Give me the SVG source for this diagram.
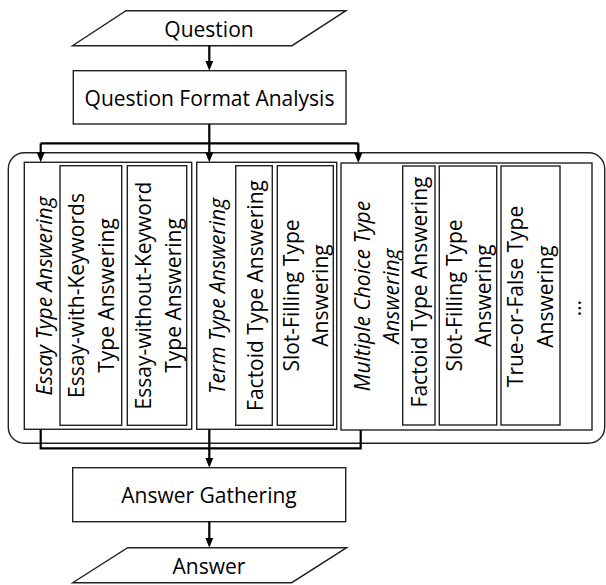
<svg xmlns="http://www.w3.org/2000/svg" width="606" height="585" viewBox="0 0 606 585">
<style>
.t{font-family:"Open Sans","Liberation Sans",sans-serif;font-size:21px;fill:#000;text-anchor:middle}
.i{font-style:italic}
.box{fill:#fff;stroke:#222;stroke-width:1.4}
.io{fill:#fff;stroke:#222;stroke-width:1.4}
.con{fill:none;stroke:#000;stroke-width:2.2}
.con2{fill:none;stroke:#000;stroke-width:2.2}
</style>
<defs>
<marker id="ah" markerUnits="userSpaceOnUse" markerWidth="10" markerHeight="8" refX="5" refY="4" orient="auto">
<path d="M0,0 L10,4 L0,8 z" fill="#000"/>
</marker>
</defs>
<rect width="606" height="585" fill="#fff"/>

<g id="question">
<polygon class="io" points="126,10.7 346,10.7 292,45.7 72.5,45.7"/>
<text class="t" x="209" y="37">Question</text>
</g>

<g id="qfa">
<rect class="box" x="73.3" y="70.7" width="272.7" height="53.3"/>
<text class="t" x="209.5" y="106">Question Format Analysis</text>
</g>

<g id="container">
<rect x="8.3" y="152.7" width="596.4" height="290.6" rx="16" fill="#fff" stroke="#222" stroke-width="1.4"/>
</g>

<g id="essay">
<rect class="box" x="24.3" y="162.3" width="167.4" height="267"/>
<text class="t i" transform="translate(51.5,296) rotate(-90)">Essay Type Answering</text>
</g>
<g id="essay-with">
<rect class="box" x="60" y="165.7" width="61.7" height="259.6"/>
<text class="t" transform="translate(84,295.5) rotate(-90)">Essay-with-Keywords</text>
<text class="t" transform="translate(113.5,295.5) rotate(-90)">Type Answering</text>
</g>
<g id="essay-without">
<rect class="box" x="127.3" y="165.7" width="59.4" height="259.6"/>
<text class="t" transform="translate(151,295.5) rotate(-90)">Essay-without-Keyword</text>
<text class="t" transform="translate(180.5,295.5) rotate(-90)">Type Answering</text>
</g>

<g id="term">
<rect class="box" x="196.7" y="162.3" width="140" height="267"/>
<text class="t i" transform="translate(225,296) rotate(-90)">Term Type Answering</text>
</g>
<g id="term-factoid">
<rect class="box" x="235.7" y="165.7" width="36.6" height="259.6"/>
<text class="t" transform="translate(263.3,295.5) rotate(-90)">Factoid Type Answering</text>
</g>
<g id="term-slot">
<rect class="box" x="277.3" y="165.7" width="56" height="259.6"/>
<text class="t" transform="translate(298.5,295.5) rotate(-90)">Slot-Filling Type</text>
<text class="t" transform="translate(328,295.5) rotate(-90)">Answering</text>
</g>

<g id="mc">
<rect class="box" x="341" y="163" width="251" height="267"/>
<text class="t i" transform="translate(370,296) rotate(-90)">Multiple Choice Type</text>
<text class="t i" transform="translate(399,296) rotate(-90)">Answering</text>
</g>
<g id="mc-factoid">
<rect class="box" x="402.7" y="166" width="32.3" height="259"/>
<text class="t" transform="translate(427,292) rotate(-90)">Factoid Type Answering</text>
</g>
<g id="mc-slot">
<rect class="box" x="439.3" y="166" width="57.4" height="259"/>
<text class="t" transform="translate(461.5,295.5) rotate(-90)">Slot-Filling Type</text>
<text class="t" transform="translate(491,295.5) rotate(-90)">Answering</text>
</g>
<g id="mc-tf">
<rect class="box" x="501" y="166" width="59" height="259"/>
<text class="t" transform="translate(523,296.5) rotate(-90)">True-or-False Type</text>
<text class="t" transform="translate(553,296.5) rotate(-90)">Answering</text>
</g>
<g id="mc-more">
<text class="t" transform="translate(581,308) rotate(-90)">…</text>
</g>

<g id="gathering">
<rect class="box" x="72.7" y="467.7" width="273" height="54"/>
<text class="t" x="209" y="502.5">Answer Gathering</text>
</g>

<g id="answer">
<polygon class="io" points="127.7,547.7 346.7,547.7 291.7,582.7 72.7,582.7"/>
<text class="t" x="209" y="574">Answer</text>
</g>

<g id="connectors">
<path class="con" d="M209.3,45.7 V65.7" marker-end="url(#ah)"/>
<path class="con" d="M209.3,124 V143.3 M40.7,143.3 H358.3"/>
<path class="con" d="M40.7,143.3 V157.3" marker-end="url(#ah)"/>
<path class="con" d="M209.3,143.3 V157.3" marker-end="url(#ah)"/>
<path class="con" d="M358.3,143.3 V158" marker-end="url(#ah)"/>
<path class="con2" d="M40.7,429.3 V448.3 H360.7 V430"/>
<path class="con2" d="M209.3,429.3 V462.7" marker-end="url(#ah)"/>
<path class="con" d="M209.3,521.7 V542.7" marker-end="url(#ah)"/>
</g>
</svg>
